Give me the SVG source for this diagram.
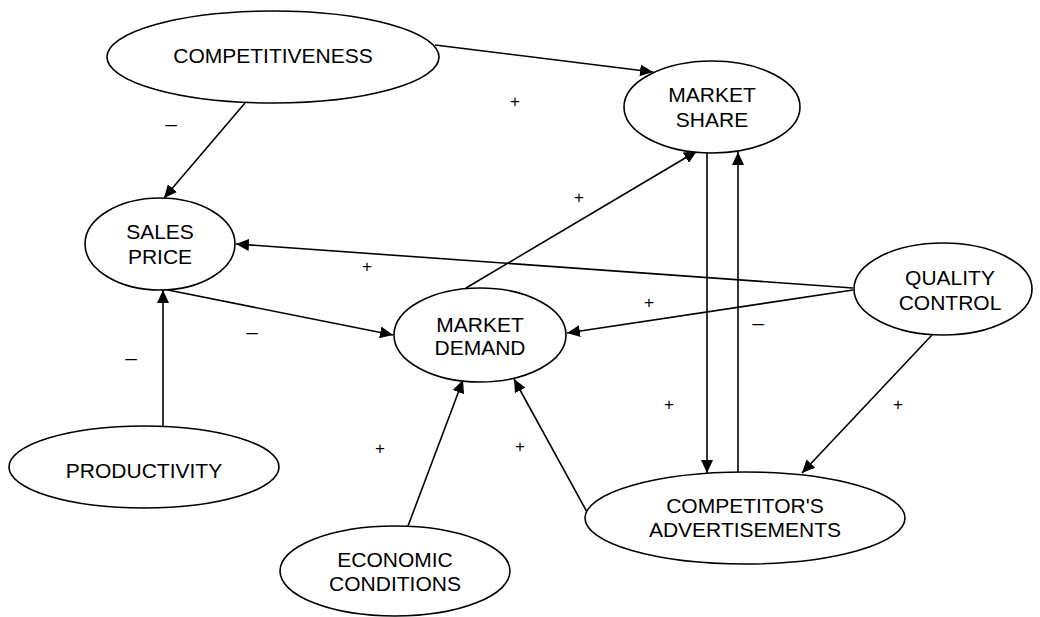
<svg xmlns="http://www.w3.org/2000/svg" width="1040" height="617" viewBox="0 0 1040 617">
<defs>
<marker id="ah" markerUnits="userSpaceOnUse" markerWidth="14" markerHeight="12" refX="13" refY="6" orient="auto">
<path d="M0,0 L13,6 L0,12 z" fill="#000"/>
</marker>
<style>
.n ellipse{fill:#fff;stroke:#000;stroke-width:1.6}
.n text{font-family:"Liberation Sans",Arial,sans-serif;font-size:21px;text-anchor:middle;fill:#000}
.c line{stroke:#000;stroke-width:1.6;marker-end:url(#ah)}
.s text{font-family:"Liberation Sans",Arial,sans-serif;font-size:17px;text-anchor:middle;fill:#000}
.s text.m{font-size:21px}
</style>
</defs>
<rect width="1040" height="617" fill="#fff"/>
<g id="connectors" class="c">
<line x1="435" y1="45" x2="653" y2="72"/>
<line x1="245" y1="103" x2="164" y2="198"/>
<line x1="853" y1="288" x2="236" y2="244"/>
<line x1="853" y1="290" x2="567" y2="333"/>
<line x1="168" y1="290" x2="393" y2="335"/>
<line x1="163" y1="426" x2="163" y2="290"/>
<line x1="466" y1="288" x2="697" y2="151"/>
<line x1="707" y1="153" x2="707" y2="473"/>
<line x1="738" y1="472" x2="738" y2="152"/>
<line x1="932" y1="335" x2="802" y2="473"/>
<line x1="587" y1="512" x2="514" y2="379"/>
<line x1="408" y1="526" x2="463" y2="380"/>
</g>
<g id="competitiveness" class="n"><ellipse cx="273" cy="57" rx="166" ry="46"/><text x="273" y="63">COMPETITIVENESS</text></g>
<g id="market-share" class="n"><ellipse cx="712" cy="107" rx="88" ry="46"/><text x="712" y="102">MARKET</text><text x="712" y="127">SHARE</text></g>
<g id="sales-price" class="n"><ellipse cx="160" cy="244" rx="75" ry="46"/><text x="160" y="239">SALES</text><text x="160" y="264">PRICE</text></g>
<g id="quality-control" class="n"><ellipse cx="943" cy="289" rx="89" ry="46"/><text x="950" y="285">QUALITY</text><text x="950" y="310">CONTROL</text></g>
<g id="market-demand" class="n"><ellipse cx="480" cy="335" rx="86" ry="47"/><text x="480" y="332">MARKET</text><text x="480" y="355">DEMAND</text></g>
<g id="productivity" class="n"><ellipse cx="144" cy="467" rx="135" ry="41"/><text x="144" y="478">PRODUCTIVITY</text></g>
<g id="economic-conditions" class="n"><ellipse cx="395" cy="571" rx="115" ry="45"/><text x="395" y="567">ECONOMIC</text><text x="395" y="591">CONDITIONS</text></g>
<g id="competitors-ads" class="n"><ellipse cx="745" cy="518" rx="160" ry="46"/><text x="745" y="513">COMPETITOR'S</text><text x="745" y="537">ADVERTISEMENTS</text></g>
<g id="signs" class="s">
<text class="m" x="171" y="131">–</text>
<text x="515" y="107">+</text>
<text x="367" y="272">+</text>
<text x="579" y="203">+</text>
<text x="649" y="308">+</text>
<text class="m" x="758" y="330">–</text>
<text class="m" x="252" y="339">–</text>
<text class="m" x="131" y="365">–</text>
<text x="380" y="454">+</text>
<text x="669" y="410">+</text>
<text x="898" y="410">+</text>
<text x="520" y="452">+</text>
</g>
</svg>
